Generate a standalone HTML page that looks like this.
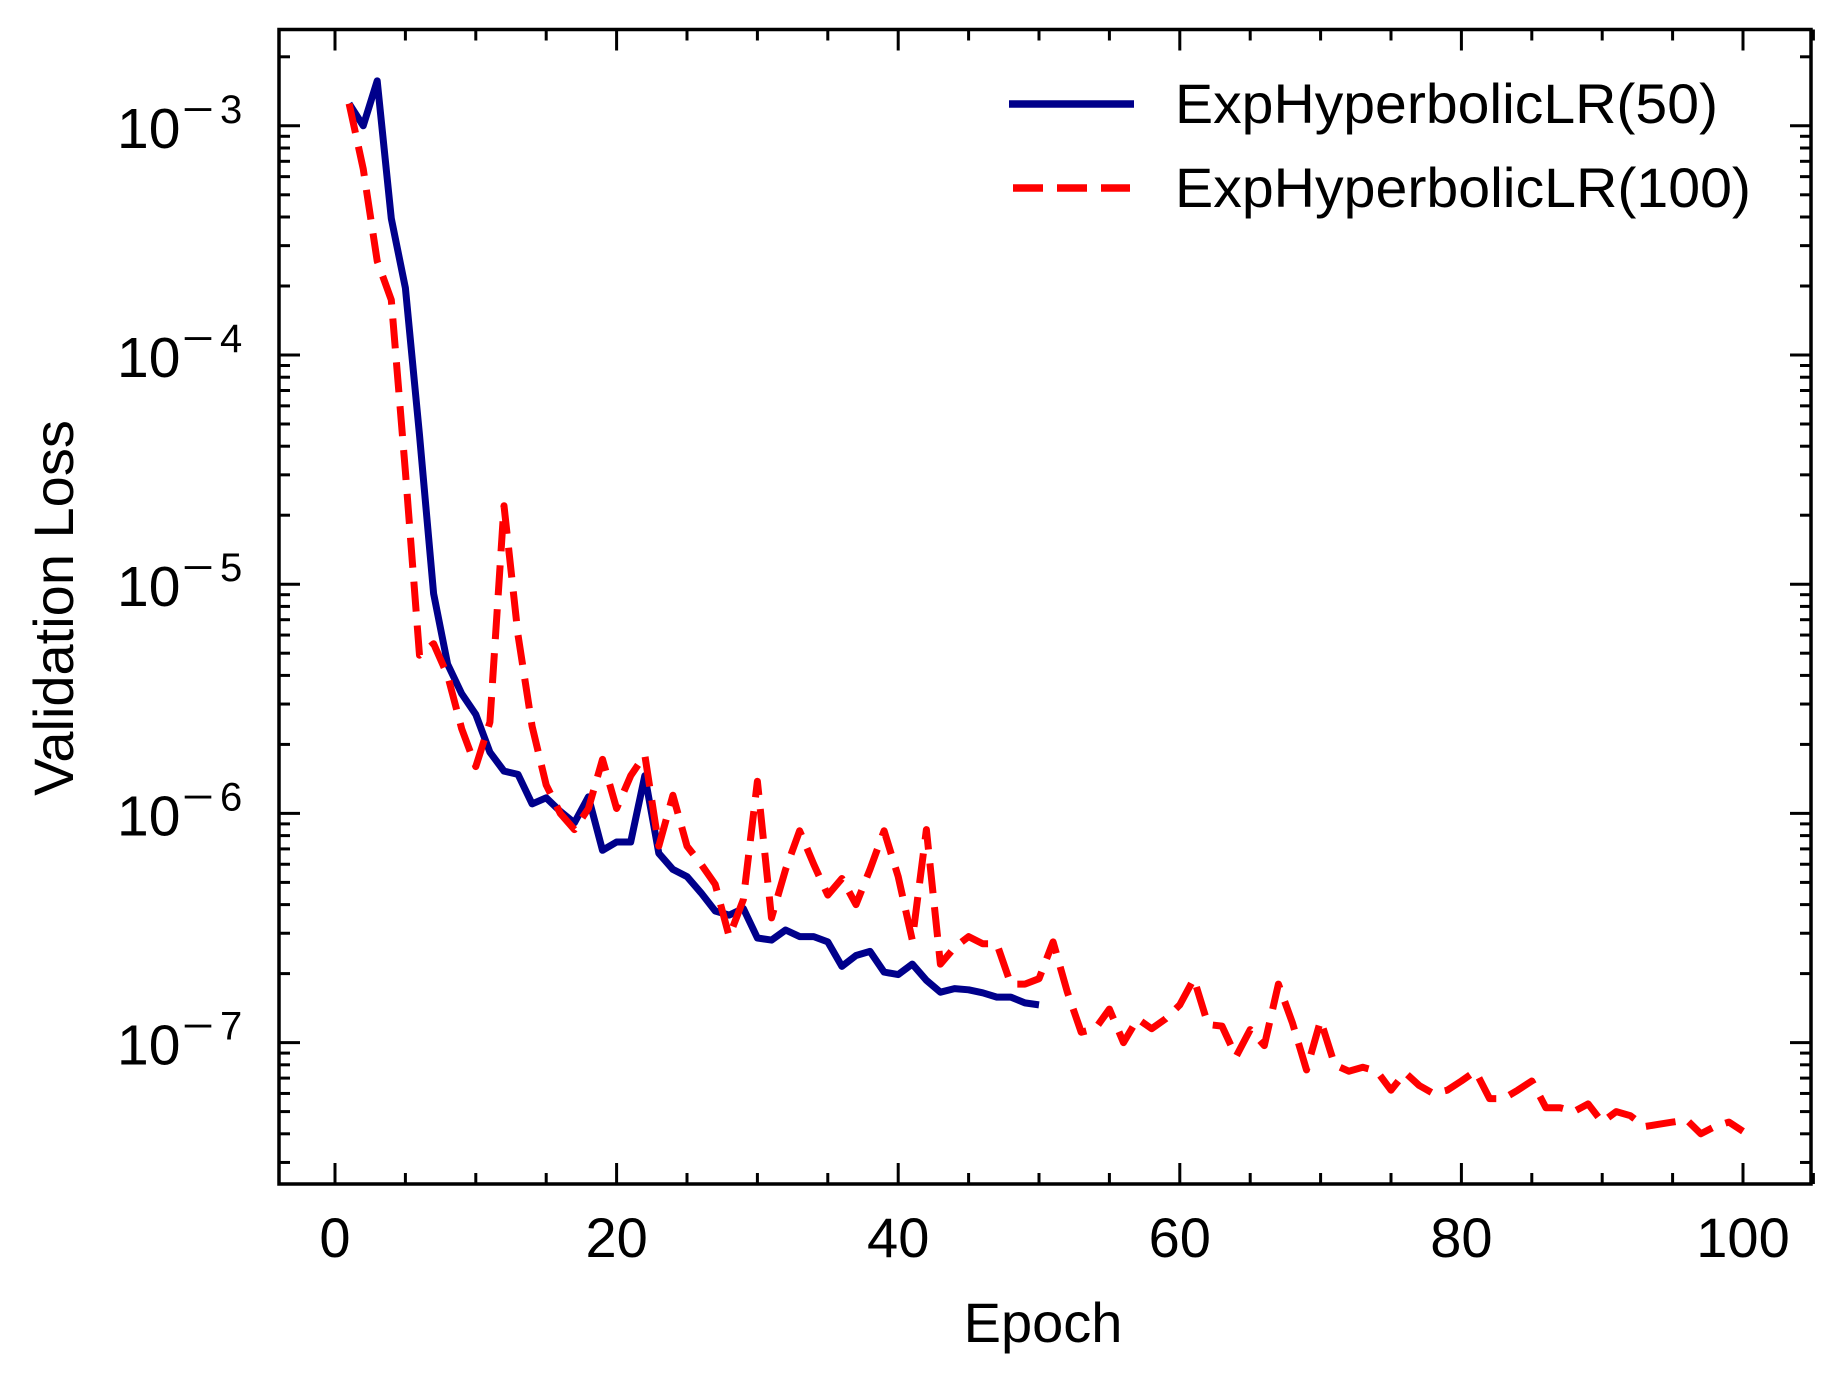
<!DOCTYPE html>
<html><head><meta charset="utf-8"><style>
html,body{margin:0;padding:0;background:#fff;}
svg{display:block;font-family:"Liberation Sans",Arial,sans-serif;}
</style></head><body>
<svg id="chart" width="1843" height="1385" viewBox="0 0 1843 1385" xmlns="http://www.w3.org/2000/svg">
<g id="plot"></g>
<g id="axes"></g>
<text x="1043" y="1342" font-size="56" text-anchor="middle">Epoch</text>
<text x="0" y="0" font-size="56" text-anchor="middle" transform="translate(73,608) rotate(-90)">Validation Loss</text>
<g>
<line x1="1009" y1="104" x2="1134" y2="104" stroke="#00008b" stroke-width="7.5"/>
<text x="1175" y="123" font-size="56" textLength="543" lengthAdjust="spacingAndGlyphs">ExpHyperbolicLR(50)</text>
<line x1="1013" y1="188" x2="1130" y2="188" stroke="#ff0000" stroke-width="7.5" stroke-dasharray="30,14"/>
<text x="1175" y="207" font-size="56" textLength="576" lengthAdjust="spacingAndGlyphs">ExpHyperbolicLR(100)</text>
</g>
</svg>
<script>
const epochs50 = Array.from({length:50},(_, i)=>i+1);
const epochs100 = Array.from({length:100},(_, i)=>i+1);
const loss50 = [1.25e-3,1.0e-3,1.57e-3,3.94e-4,1.96e-4,4.48e-5,9.1e-6,4.48e-6,3.33e-6,2.7e-6,
1.85e-6,1.53e-6,1.48e-6,1.1e-6,1.17e-6,1.02e-6,0.91e-6,1.18e-6,0.69e-6,0.75e-6,
0.75e-6,1.46e-6,0.67e-6,0.57e-6,0.53e-6,0.45e-6,0.375e-6,0.36e-6,0.385e-6,0.286e-6,
0.28e-6,0.31e-6,0.29e-6,0.29e-6,0.275e-6,0.215e-6,0.24e-6,0.25e-6,0.203e-6,0.198e-6,
0.22e-6,0.187e-6,0.166e-6,0.172e-6,0.17e-6,0.165e-6,0.158e-6,0.158e-6,0.149e-6,0.146e-6];
const loss100 = [1.25e-3,6.5e-4,2.57e-4,1.74e-4,3.1e-5,4.9e-6,5.5e-6,4.0e-6,2.34e-6,1.6e-6,
2.5e-6,2.2e-5,6.0e-6,2.4e-6,1.33e-6,1.0e-6,0.85e-6,1.05e-6,1.72e-6,1.05e-6,
1.46e-6,1.8e-6,0.72e-6,1.2e-6,0.72e-6,0.6e-6,0.49e-6,0.29e-6,0.42e-6,1.38e-6,
0.35e-6,0.57e-6,0.84e-6,0.6e-6,0.44e-6,0.52e-6,0.4e-6,0.57e-6,0.84e-6,0.53e-6,
0.28e-6,0.85e-6,0.22e-6,0.26e-6,0.29e-6,0.27e-6,0.27e-6,0.18e-6,0.18e-6,0.19e-6,
0.275e-6,0.167e-6,0.111e-6,0.115e-6,0.14e-6,0.1e-6,0.127e-6,0.115e-6,0.127e-6,0.146e-6,
0.19e-6,0.12e-6,0.118e-6,0.087e-6,0.114e-6,0.097e-6,0.18e-6,0.122e-6,0.076e-6,0.125e-6,
0.08e-6,0.075e-6,0.078e-6,0.075e-6,0.062e-6,0.074e-6,0.065e-6,0.06e-6,0.062e-6,0.068e-6,
0.075e-6,0.057e-6,0.057e-6,0.062e-6,0.068e-6,0.052e-6,0.052e-6,0.05e-6,0.054e-6,0.045e-6,
0.05e-6,0.048e-6,0.043e-6,0.044e-6,0.045e-6,0.046e-6,0.040e-6,0.043e-6,0.045e-6,0.041e-6];
const xTicks = [0,20,40,60,80,100];
const yTickExps = [-3,-4,-5,-6,-7];

const NS = "http://www.w3.org/2000/svg";
const L=279, R=1811, T=29.5, B=1184;
const X0=335, XS=14.08;
const Y3=125.8, DEC=229.2;
function xs(e){return X0+e*XS;}
function ys(v){return Y3+(-3-Math.log10(v))*DEC;}
function mk(tag, attrs, parent){
  const el=document.createElementNS(NS,tag);
  for(const k in attrs) el.setAttribute(k,attrs[k]);
  parent.appendChild(el); return el;
}
const plot=document.getElementById('plot');
const axes=document.getElementById('axes');

const defs=mk('defs',{},plot);
const cp=mk('clipPath',{id:'clip'},defs);
mk('rect',{x:L,y:T,width:R-L,height:B-T},cp);

function series(xsArr, ysArr, color, dash, name){
  const d=xsArr.map((e,i)=>(i?'L':'M')+xs(e).toFixed(1)+','+ys(ysArr[i]).toFixed(1)).join(' ');
  const p=mk('path',{d:d,fill:'none',stroke:color,'stroke-width':7,'stroke-linejoin':'round','clip-path':'url(#clip)'},plot);
  if(dash) p.setAttribute('stroke-dasharray',dash);
  
  
}
series(epochs50, loss50, '#00008b', null, 'series-exphyperboliclr-50');
series(epochs100, loss100, '#ff0000', '30,14', 'series-exphyperboliclr-100');

const fr=mk('rect',{x:L,y:T,width:R-L,height:B-T,fill:'none',stroke:'#000','stroke-width':3.5},axes);



for(let e=0;e<=105;e+=5){
  const x=xs(e); const maj=(e%20===0); const len=maj?21:11;
  mk('line',{x1:x,y1:B,x2:x,y2:B-len,stroke:'#000','stroke-width':3},axes);
  mk('line',{x1:x,y1:T,x2:x,y2:T+len,stroke:'#000','stroke-width':3},axes);
}
xTicks.forEach(t=>{
  const tx=mk('text',{x:xs(t),y:1257,'font-size':56,'text-anchor':'middle'},axes);
  tx.textContent=String(t);
  
  
});
for(let ex=-8;ex<=-2;ex++){
  for(let m=1;m<=9;m++){
    const v=m*Math.pow(10,ex); const y=ys(v);
    if(y<T+1||y>B-1) continue;
    const len=(m===1)?21:11;
    mk('line',{x1:L,y1:y,x2:L+len,y2:y,stroke:'#000','stroke-width':3},axes);
    mk('line',{x1:R,y1:y,x2:R-len,y2:y,stroke:'#000','stroke-width':3},axes);
  }
}
yTickExps.forEach(ex=>{
  const y=ys(Math.pow(10,ex));
  const g=mk('g',{},axes);
  
  
  const a=mk('text',{x:117,y:y+22,'font-size':57},g); a.textContent='10';
  const b=mk('text',{x:182,y:y-3,'font-size':40,textLength:32,lengthAdjust:'spacingAndGlyphs'},g); b.textContent='\u2212';
  const c=mk('text',{x:220,y:y-3,'font-size':40},g); c.textContent=String(Math.abs(ex));
});
</script>
</body></html>
